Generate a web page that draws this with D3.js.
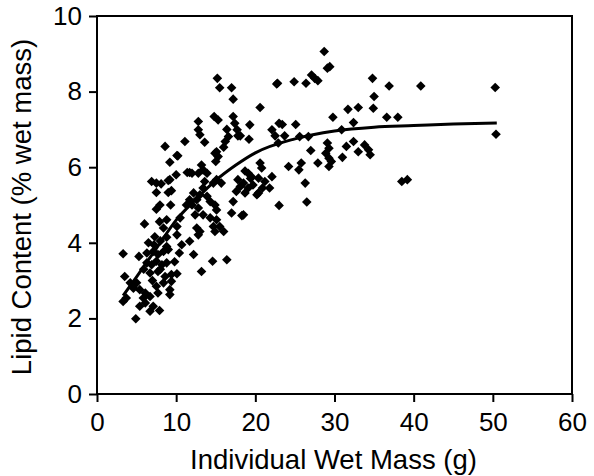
<!DOCTYPE html>
<html>
<head>
<meta charset="utf-8">
<title>Lipid Content vs Individual Wet Mass</title>
<script src="https://d3js.org/d3.v7.min.js"></script>
<style>
  body { margin: 0; background: #fff; }
  svg text { font-family: "Liberation Sans", Arial, sans-serif; fill: #000; }
</style>
</head>
<body>
<div id="chart"></div>
<script>
// axis ticks
const xTicks = [0, 10, 20, 30, 40, 50, 60];
const yTicks = [0, 2, 4, 6, 8, 10];

const points = [
  // upper band
  [15.2,8.35],[15.5,8.1],[17.0,8.1],[17.2,7.8],[14.8,7.34],[15.3,7.25],[17.2,7.34],[12.8,7.21],
  [12.8,6.99],[13.0,6.86],[13.6,6.66],[11.1,6.68],[8.6,6.55],[10.1,6.31],[9.2,6.13],[10.2,6.3],
  [16.4,7.0],[16.6,6.81],[17.8,6.83],[17.4,7.16],[17.7,6.99],[18.1,6.83],[19.3,7.12],[19.2,6.74],
  [16.2,6.68],[16.0,6.53],[15.1,6.41],[15.3,6.28],[15.0,6.15],[14.9,6.37],[20.6,7.58],[22.7,8.2],
  [22.1,6.99],[22.5,6.83],[23.0,7.16],[22.9,6.64],[22.8,8.22],[24.9,8.26],[26.4,8.22],[27.1,8.44],
  [27.5,8.35],[27.9,8.29],[28.7,9.06],[29.1,8.62],[29.4,8.66],[23.4,7.13],[25.1,7.13],[23.7,6.83],
  [25.6,6.81],[26.7,6.81],[29.8,7.32],[31.7,7.53],[33.0,7.58],[32.4,7.18],[34.8,8.35],[36.9,8.15],
  [35.0,7.87],[34.9,7.56],[36.6,7.32],[38.0,7.32],[30.9,6.99],
  // right-hand group
  [29.1,6.64],[29.3,6.5],[28.9,6.37],[29.3,6.24],[29.6,6.15],[29.3,6.02],[27.0,6.44],[27.9,6.11],
  [25.8,6.11],[25.5,5.93],[24.2,6.02],[31.0,6.26],[31.5,6.55],[32.4,6.68],[33.0,6.41],[33.8,6.59],
  [34.3,6.46],[34.5,6.33],[26.3,5.58],[26.5,5.08],[23.0,4.99],[38.5,5.62],[39.2,5.67],[40.9,8.15],
  [50.3,8.11],[50.4,6.87],
  // middle
  [18.7,5.9],[19.4,5.7],[20.2,5.27],[20.9,5.45],[21.8,5.45],[22.1,5.75],[20.6,6.11],[20.8,5.98],
  [19.1,5.84],[19.5,5.75],[17.8,5.67],[18.5,5.58],[18.1,5.49],[20.4,5.71],[21.2,5.62],[19.1,5.45],
  [19.7,5.53],[20.4,5.32],[17.6,5.36],[18.7,5.32],[17.2,5.09],[18.5,4.74],[17.0,4.79],[18.3,4.72],
  [13.2,6.06],[12.8,5.84],[12.0,5.84],[13.9,5.84],[13.6,5.62],[15.1,5.67],[15.7,5.58],[14.7,5.58],
  [13.4,5.45],[13.0,5.27],[13.9,5.23],[14.3,5.09],[14.9,5.0],[15.1,4.87],[12.2,5.32],[12.6,5.14],
  [12.0,5.0],[12.8,4.92],[12.4,4.74],[13.4,4.74],[14.3,4.66],[15.1,4.61],[14.7,4.43],[15.5,4.43],
  [12.6,4.39],[13.0,4.3],[14.9,4.3],[16.0,4.3],[11.7,5.86],[13.4,5.93],[11.4,5.86],[10.0,5.8],
  [11.3,5.0],[11.7,5.14],[10.5,4.66],[10.1,4.43],[11.7,4.04],[12.2,3.69],[12.8,4.21],[13.2,3.24],
  [14.6,3.51],[16.4,3.55],
  // left
  [9.2,5.67],[6.9,5.62],[7.5,5.58],[8.1,5.56],[9.0,5.65],[7.5,5.33],[9.0,5.33],[9.4,5.38],
  [7.95,5.0],[7.5,4.89],[9.3,5.0],[6.0,4.5],[7.9,4.56],[8.8,4.61],[8.4,4.39],[7.3,4.16],
  [8.8,4.15],[10.1,4.21],
  // low cluster
  [3.3,3.71],[5.3,3.64],[6.3,3.73],[7.1,3.77],[7.7,3.69],[8.4,3.77],[9.0,3.82],[6.3,3.47],
  [6.9,3.42],[7.5,3.51],[8.2,3.42],[8.8,3.47],[6.7,3.2],[7.7,3.24],[8.6,3.11],[9.4,3.16],
  [10.1,3.18],[10.4,3.73],[10.7,3.95],[3.5,3.11],[4.2,2.94],[4.6,2.8],[5.0,2.94],[5.4,2.76],
  [6.1,2.67],[6.7,2.58],[5.85,2.54],[7.5,2.85],[7.7,2.67],[9.2,2.76],[9.4,2.98],[8.4,2.94],
  [3.3,2.45],[3.7,2.54],[5.4,2.32],[6.1,2.41],[6.7,2.19],[7.1,2.32],[4.9,1.99],[7.9,2.21],
  [9.2,2.63],[6.5,4.0],[7.2,3.95],[8.0,4.05],[8.8,3.9],[5.9,3.3],[7.0,3.0],[8.0,3.3],[9.8,3.5]
];

// fitted curve
const fitMass  = [3.3, 5, 7.5, 10, 12.5, 15, 17.5, 20, 25, 30, 35, 40, 45, 50.5];
const fitLipid = [2.6, 3.1, 3.85, 4.6, 5.15, 5.65, 6.05, 6.38, 6.75, 6.96, 7.06, 7.1, 7.14, 7.17];

const width = 594, height = 476;
const margin = {top: 16, right: 22, bottom: 82, left: 97};
const innerW = width - margin.left - margin.right;
const innerH = height - margin.top - margin.bottom;

const svg = d3.select("#chart").append("svg")
    .attr("width", width)
    .attr("height", height);

const g = svg.append("g")
    .attr("transform", `translate(${margin.left},${margin.top})`);

const x = d3.scaleLinear().domain([0, 60]).range([0, innerW]);
const y = d3.scaleLinear().domain([0, 10]).range([innerH, 0]);

// axes
const xAxis = g.append("g")
    .attr("transform", `translate(0,${innerH})`)
    .call(d3.axisBottom(x).tickValues(xTicks).tickSize(8).tickPadding(11));
const yAxis = g.append("g")
    .call(d3.axisLeft(y).tickValues(yTicks).tickSize(8).tickPadding(7));

[xAxis, yAxis].forEach(a => {
  a.select(".domain").remove();
  a.selectAll(".tick line").attr("stroke", "#000").attr("stroke-width", 2);
  a.selectAll(".tick text")
      .attr("font-family", "'Liberation Sans', Arial, sans-serif")
      .attr("font-size", 26)
      .attr("fill", "#000");
});

// frame
g.append("rect")
    .attr("width", innerW)
    .attr("height", innerH)
    .attr("fill", "none")
    .attr("stroke", "#000")
    .attr("stroke-width", 2);

// points as diamonds
const r = 4.8;
g.selectAll("path.pt")
  .data(points)
  .enter()
  .append("path")
    .attr("class", "pt")
    .attr("transform", d => `translate(${x(d[0])},${y(d[1])})`)
    .attr("d", `M0,${-r}L${r},0L0,${r}L${-r},0Z`)
    .attr("fill", "#000");

// fitted line
const line = d3.line()
    .x((d, i) => x(fitMass[i]))
    .y(d => y(d))
    .curve(d3.curveMonotoneX);
g.append("path")
    .datum(fitLipid)
    .attr("d", line)
    .attr("fill", "none")
    .attr("stroke", "#000")
    .attr("stroke-width", 3);

// axis titles
svg.append("text")
    .attr("x", margin.left + innerW / 2 - 1)
    .attr("y", 469)
    .attr("text-anchor", "middle")
    .attr("font-size", 27.5)
    .text("Individual Wet Mass (g)");

svg.append("text")
    .attr("transform", `translate(31,${margin.top + innerH / 2 + 2}) rotate(-90)`)
    .attr("text-anchor", "middle")
    .attr("font-size", 27.5)
    .text("Lipid Content (% wet mass)");
</script>
</body>
</html>
